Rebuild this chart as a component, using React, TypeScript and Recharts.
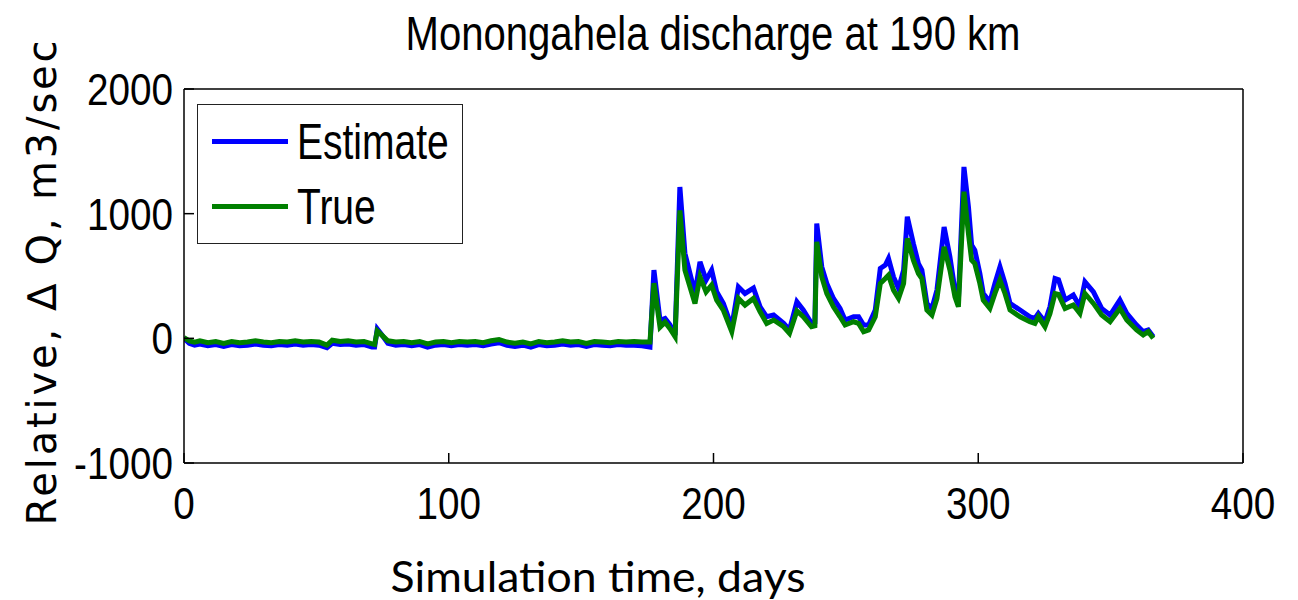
import React from 'react';
import { LineChart, Line, XAxis, YAxis, Legend } from 'recharts';

// Simulation day of each sample
const days = [
  0, 2, 4, 6, 9, 12, 15, 18, 21, 24, 27, 30, 33, 36, 39, 42, 45, 48, 51, 54, 56, 59, 62, 65, 68, 71, 72, 73, 75, 77,
  80, 83, 86, 89, 92, 95, 98, 101, 104, 107, 110, 113, 116, 119, 122, 125, 128, 131, 134, 137, 140, 143, 146, 149,
  152, 155, 158, 161, 164, 167, 170, 173, 176,
  177.5, 179.8, 181.7, 183.5, 185.5, 187.3, 189.2, 191.1, 193, 194.9, 197.2, 199.3, 201.2, 203.7, 206.9, 209.4,
  211.9, 215.1, 217.6, 220.1, 222.7, 226.5, 228.7, 231.5, 233.9, 237, 238.3, 239, 240.9, 242.8, 245.3, 247.8,
  249.7, 252.9, 254.8, 256.7, 258.6, 261.1, 263, 264.9, 266.1, 268, 269.9, 271.8, 273.2, 275.5, 277.4, 278.7,
  280.6, 282.5, 284.4, 287.1, 289.3, 291.2, 292.5, 294.6, 296.3, 297.5, 298.7, 300.6, 301.9, 304.4, 306.3, 308.2,
  310.1, 312, 315.8, 319.5, 321.4, 322.7, 325.2, 327.1, 329, 330.3, 332.8, 335.9, 338.4, 340.3, 343.5, 346.6,
  349.8, 353.5, 356.1, 359.8, 362.3, 364.2, 366.1,
];

// Estimated discharge change, m3/sec
const estimate = [
  0, -40, -55, -45, -60, -50, -65, -50, -60, -55, -45, -55, -60, -50, -55, -45, -55, -50, -55, -75, -40, -50, -45,
  -55, -50, -70, -70, 75, 20, -40,
  -55, -50, -60, -50, -70, -55, -50, -60, -50, -55, -50, -60, -45, -35, -55, -65, -55, -70, -50, -60, -55, -45, -55,
  -50, -65, -50, -55, -60, -50, -55, -55, -60, -70,
  547, 145, 160, 110, 26, 1214, 682, 521, 361, 613, 467, 547, 373, 280, 93, 413,
  360, 403, 253, 173, 187, 120, 67, 293, 227, 120, 130, 921, 573, 440, 320, 240,
  147, 173, 173, 107, 107, 227, 560, 587, 640, 493, 400, 547, 975, 760, 600, 547,
  280, 240, 387, 893, 653, 387, 307, 1375, 1054, 747, 707, 520, 360, 293, 440, 573,
  440, 280, 227, 173, 160, 200, 133, 253, 480, 470, 307, 347, 253, 453, 373, 240,
  187, 307, 200, 107, 53, 67, 13,
];

// True discharge change, m3/sec
const trueQ = [
  5, -20, -30, -20, -35, -25, -40, -25, -35, -30, -20, -30, -35, -25, -30, -20, -30, -25, -30, -55, -15, -25, -20,
  -30, -25, -45, -50, 60, 20, -20,
  -30, -25, -35, -25, -45, -30, -25, -35, -25, -30, -25, -35, -20, -10, -30, -40, -30, -45, -25, -35, -30, -20, -30,
  -25, -40, -25, -30, -35, -25, -30, -25, -30, -30,
  443, 90, 130, 80, 13, 1026, 547, 413, 280, 493, 373, 427, 307, 227, 53, 320,
  267, 320, 213, 120, 147, 93, 40, 220, 173, 93, 100, 774, 493, 360, 253, 173,
  107, 133, 120, 53, 67, 173, 440, 480, 507, 387, 320, 440, 802, 627, 520, 480,
  227, 187, 320, 733, 547, 333, 253, 1176, 840, 627, 600, 440, 307, 240, 360, 467,
  360, 227, 173, 133, 120, 173, 93, 200, 360, 353, 240, 267, 200, 360, 280, 187,
  133, 240, 147, 67, 27, 53, 0,
];

const xTicks = [0, 100, 200, 300, 400];
const yTicks = [-1000, 0, 1000, 2000];

const data = days.map((d, i) => ({ day: d, estimate: estimate[i], trueQ: trueQ[i] }));

const sans = '"Liberation Sans", Arial, sans-serif';
// no narrow face installed, so squeeze the regular one
const TICK_SQUEEZE = 0.86;
const LEGEND_SQUEEZE = 0.78;

const NarrowTick = (props: any) => {
  const { x, y, payload, anchor, dy } = props;
  return (
    <text
      x={0}
      y={0}
      dy={dy}
      textAnchor={anchor}
      transform={`translate(${x},${y}) scale(${TICK_SQUEEZE},1)`}
      fontFamily={sans}
      fontSize={45}
      fill="#000"
    >
      {payload.value}
    </text>
  );
};

const renderLegend = () => (
  <div
    style={{
      position: 'relative',
      width: 266,
      height: 140,
      boxSizing: 'border-box',
      border: '1.5px solid #222',
      background: '#fff',
      fontFamily: sans,
      fontSize: 50,
      color: '#000',
    }}
  >
    {[
      { name: 'Estimate', color: '#0000ff', y: 37 },
      { name: 'True', color: '#008000', y: 102 },
    ].map((item) => (
      <div key={item.name}>
        <div style={{ position: 'absolute', left: 14, top: item.y - 3, width: 76, height: 5, background: item.color }} />
        <div
          style={{
            position: 'absolute',
            left: 99,
            top: item.y - 30,
            lineHeight: '60px',
            height: 60,
            whiteSpace: 'nowrap',
            transform: `scaleX(${LEGEND_SQUEEZE})`,
            transformOrigin: 'left center',
          }}
        >
          {item.name}
        </div>
      </div>
    ))}
  </div>
);

const App = () => {
  return (
    <div style={{ position: 'absolute', left: 0, top: 0, width: 1298, height: 600, background: '#fff' }}>
      <LineChart width={1298} height={600} data={data} margin={{ top: 88, right: 54, bottom: 77, left: 84 }}>
        <XAxis
          dataKey="day"
          type="number"
          domain={[0, 400]}
          ticks={xTicks}
          tick={<NarrowTick anchor="middle" dy="0.71em" />}
          tickSize={-10}
          tickMargin={34}
          height={60}
          axisLine={{ stroke: '#000', strokeWidth: 1.5 }}
          tickLine={{ stroke: '#000', strokeWidth: 1.5 }}
          allowDataOverflow
        />
        <XAxis
          xAxisId="top"
          orientation="top"
          type="number"
          domain={[0, 400]}
          ticks={xTicks}
          tick={false}
          tickSize={-10}
          height={1}
          axisLine={{ stroke: '#000', strokeWidth: 1.5 }}
          tickLine={{ stroke: '#000', strokeWidth: 1.5 }}
        />
        <YAxis
          type="number"
          domain={[-1000, 2000]}
          ticks={yTicks}
          tick={<NarrowTick anchor="end" dy="0.355em" />}
          tickSize={-10}
          tickMargin={21}
          width={100}
          axisLine={{ stroke: '#000', strokeWidth: 1.5 }}
          tickLine={{ stroke: '#000', strokeWidth: 1.5 }}
          allowDataOverflow
        />
        <YAxis
          yAxisId="right"
          orientation="right"
          type="number"
          domain={[-1000, 2000]}
          ticks={yTicks}
          tick={false}
          tickSize={-10}
          width={1}
          axisLine={{ stroke: '#000', strokeWidth: 1.5 }}
          tickLine={{ stroke: '#000', strokeWidth: 1.5 }}
        />
        <Legend
          content={renderLegend}
          layout="horizontal"
          verticalAlign="middle"
          align="center"
          wrapperStyle={{ left: 197, top: 104, width: 266, height: 140 }}
        />
        <Line
          type="linear"
          dataKey="estimate"
          name="Estimate"
          stroke="#0000ff"
          strokeWidth={5}
          dot={false}
          isAnimationActive={false}
        />
        <Line
          type="linear"
          dataKey="trueQ"
          name="True"
          stroke="#008000"
          strokeWidth={5}
          dot={false}
          isAnimationActive={false}
        />
      </LineChart>
      <svg width={1298} height={600} style={{ position: 'absolute', left: 0, top: 0, pointerEvents: 'none' }}>
        <text x={713} y={50} textAnchor="middle" fontFamily={sans} fontSize={48} textLength={615} lengthAdjust="spacingAndGlyphs" fill="#000">
          Monongahela discharge at 190 km
        </text>
        <text
          x={0}
          y={0}
          transform="translate(56, 283) rotate(-90)"
          textAnchor="middle"
          fontFamily='"DejaVu Sans", sans-serif'
          fontSize={40}
          textLength={485}
          lengthAdjust="spacing"
          fill="#000"
        >
          Relative,  ∆  Q,  m3/sec
        </text>
        <text x={598} y={592} textAnchor="middle" fontFamily='Lato, "Open Sans", sans-serif' fontSize={42} textLength={415} lengthAdjust="spacingAndGlyphs" fill="#000">
          Simulation time, days
        </text>
      </svg>
    </div>
  );
};

export default App;
